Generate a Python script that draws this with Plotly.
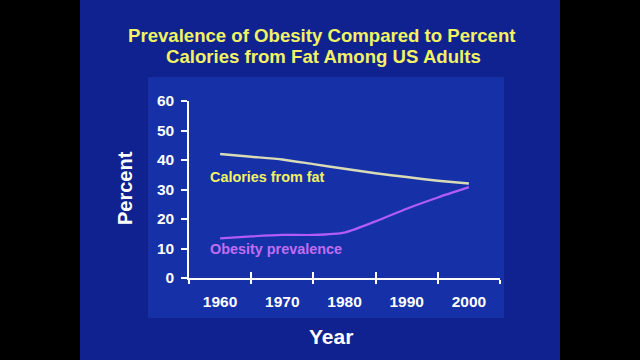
import plotly.graph_objects as go

years = [1960, 1965, 1970, 1975, 1980, 1985, 1990, 1995, 2000]
calories_from_fat = [42.0, 41.1, 40.2, 38.6, 37.0, 35.5, 34.2, 33.0, 32.0]
obesity_prevalence = [13.4, 14.1, 14.6, 14.6, 15.4, 19.2, 23.5, 27.3, 30.8]
x_tick_labels = ["1960", "1970", "1980", "1990", "2000"]
x_tick_vals = [1960, 1970, 1980, 1990, 2000]
x_boundaries = [1955, 1965, 1975, 1985, 1995, 2005]
y_tick_vals = [0, 10, 20, 30, 40, 50, 60]

FONT = "Liberation Sans, Arial, sans-serif"
SLIDE = "#0f2290"
PANEL = "#1631a8"
YELLOW = "#f2f263"
PURPLE = "#c06ef2"

fig = go.Figure()
fig.add_trace(go.Scatter(x=years, y=calories_from_fat, mode="lines",
                         line=dict(color="#d9dbb6", width=2.5, shape="spline", smoothing=0.6),
                         hoverinfo="skip", showlegend=False))
fig.add_trace(go.Scatter(x=years, y=obesity_prevalence, mode="lines",
                         line=dict(color="#b05cf5", width=2.2, shape="spline", smoothing=0.6),
                         hoverinfo="skip", showlegend=False))
# invisible trace for overlaying axis (crossing tick marks)
fig.add_trace(go.Scatter(x=[1955, 2005], y=[0, 0], xaxis="x2", mode="lines",
                         line=dict(width=0), hoverinfo="skip", showlegend=False))

fig.update_layout(
    width=640, height=360,
    margin=dict(l=0, r=0, t=0, b=0, pad=0, autoexpand=False),
    paper_bgcolor="black",
    plot_bgcolor="rgba(0,0,0,0)",
    font=dict(family=FONT, color="white"),
    xaxis=dict(domain=[189/640, 500/640], range=[1955, 2005], automargin=False,
               tickvals=x_tick_vals, ticktext=x_tick_labels, ticks="",
               showgrid=False, zeroline=False, showline=True, linecolor="white", linewidth=1.5,
               tickfont=dict(family=FONT, size=15.5, color="white", weight="bold"),
               ticklabelstandoff=9,
               minor=dict(tickvals=x_boundaries, ticks="outside", ticklen=4, tickcolor="white", tickwidth=1.5)),
    xaxis2=dict(domain=[189/640, 500/640], range=[1955, 2005], overlaying="x", anchor="y",
                automargin=False,
                side="bottom", tickvals=x_boundaries, ticks="inside", ticklen=6, tickcolor="white",
                tickwidth=1.5, showticklabels=False, showgrid=False, zeroline=False, showline=False),
    yaxis=dict(domain=[1-278/360, 1-101/360], range=[0, 60], tickvals=y_tick_vals, automargin=False,
               ticks="outside", ticklen=6, tickcolor="white", tickwidth=1.5,
               showgrid=False, zeroline=False, showline=True, linecolor="white", linewidth=1.5,
               tickfont=dict(family=FONT, size=15.5, color="white", weight="bold"),
               ticklabelstandoff=4),
    shapes=[
        dict(type="rect", xref="paper", yref="paper", x0=80/640, x1=560/640, y0=0, y1=1,
             fillcolor=SLIDE, line=dict(width=0), layer="below"),
        dict(type="rect", xref="paper", yref="paper", x0=148/640, x1=504/640,
             y0=1-318/360, y1=1-77/360, fillcolor=PANEL, line=dict(width=0), layer="below"),
    ],
    annotations=[
        dict(text="Prevalence of Obesity Compared to Percent", xref="paper", yref="paper",
             x=322/640, y=1-35.5/360, showarrow=False, xanchor="center", yanchor="middle",
             font=dict(family=FONT, size=18.6, color=YELLOW, weight="bold")),
        dict(text="Calories from Fat Among US Adults", xref="paper", yref="paper",
             x=323/640, y=1-56.5/360, showarrow=False, xanchor="center", yanchor="middle",
             font=dict(family=FONT, size=18.6, color=YELLOW, weight="bold")),
        dict(text="Year", xref="paper", yref="paper", x=331/640, y=1-336/360,
             showarrow=False, xanchor="center", yanchor="middle",
             font=dict(family=FONT, size=21, color="white", weight="bold")),
        dict(text="Percent", xref="paper", yref="paper", x=125/640, y=1-188/360,
             showarrow=False, xanchor="center", yanchor="middle", textangle=-90,
             font=dict(family=FONT, size=20, color="white", weight="bold")),
        dict(text="Calories from fat", xref="x", yref="y", x=1958.0, y=34.2,
             showarrow=False, xanchor="left", yanchor="middle",
             font=dict(family=FONT, size=14.4, color=YELLOW, weight="bold")),
        dict(text="Obesity prevalence", xref="x", yref="y", x=1958.0, y=9.8,
             showarrow=False, xanchor="left", yanchor="middle",
             font=dict(family=FONT, size=14.4, color=PURPLE, weight="bold")),
    ],
)

fig.write_html("out.html", config={"displayModeBar": False},
               post_script="document.body.style.margin='0';document.body.style.padding='0';document.body.style.overflow='hidden';")
